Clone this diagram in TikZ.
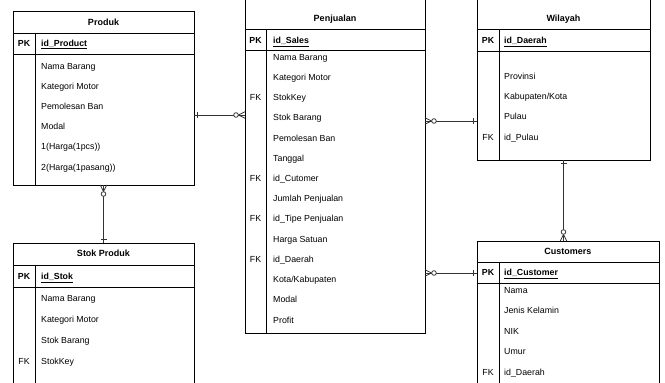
\documentclass[tikz,border=0pt]{standalone}
\usepackage{fontspec}
\setmainfont{Liberation Sans}
\usetikzlibrary{calc}
\begin{document}
\begin{tikzpicture}[x=1pt,y=-1pt,
  tbl/.style={draw=black, line width=0.9pt, anchor=north west, inner sep=0pt, outer sep=0pt},
  ln/.style={draw=black, line width=0.9pt},
  ttl/.style={font=\fontsize{9}{10}\selectfont\bfseries, inner sep=0pt, text height=6.5pt, text depth=0pt},
  row/.style={font=\fontsize{8.8}{10}\selectfont, anchor=west, inner sep=0pt, text height=6.3pt, text depth=0pt},
  idrow/.style={row, font=\fontsize{8.8}{10}\selectfont\bfseries},
  key/.style={font=\fontsize{8.8}{10}\selectfont, inner sep=0pt, text height=6.3pt, text depth=0pt},
  pk/.style={key, font=\fontsize{8.8}{10}\selectfont\bfseries},
  con/.style={draw=black!80, line width=0.8pt},
  zmany/.pic={\draw[con] (0,-3.3) -- (6.5,0) -- (0,3.3); \draw[con] (0,0) -- (6.5,0); \draw[con, fill=white] (9,0) circle (2.3pt);},
  one/.pic={\draw[con] (3.5,-3) -- (3.5,3);}
]
\useasboundingbox (0,0) rectangle (665,383);
\clip (0,0) rectangle (665,383);
\fill[white] (0,0) rectangle (665,383);

% ---------- Produk ----------
\node[tbl, minimum width=181pt, minimum height=174pt] (produk) at (13,11) {};
\draw[ln] (13,33) -- (194,33);
\draw[ln] (13,54) -- (194,54);
\draw[ln] (35,33) -- (35,185);
\node[ttl] (produk-t) at (103.5,22) {Produk};
\node[pk] (produk-pk) at (24,43) {PK};
\node[idrow] (produk-id) at (41,43) {\underline{id\_Product}};
\foreach \t [count=\i] in {Nama Barang, Kategori Motor, Pemolesan Ban, Modal, {1(Harga(1pcs))}, {2(Harga(1pasang))}}
  \node[row] (produk-\i) at (41,{66+20.2*(\i-1)}) {\t};

% ---------- Stok Produk ----------
\node[tbl, minimum width=181pt, minimum height=160pt] (stok) at (13,243) {};
\draw[ln] (13,265) -- (194,265);
\draw[ln] (13,287) -- (194,287);
\draw[ln] (35,265) -- (35,403);
\node[ttl] (stok-t) at (103.5,253.5) {Stok Produk};
\node[pk] (stok-pk) at (24,276.5) {PK};
\node[idrow] (stok-id) at (41,276.5) {\underline{id\_Stok}};
\foreach \t [count=\i] in {Nama Barang, Kategori Motor, Stok Barang, StokKey}
  \node[row] (stok-\i) at (41,{298+21*(\i-1)}) {\t};
\node[key] (stok-fk) at (24,361) {FK};

% ---------- Penjualan ----------
\node[tbl, minimum width=180pt, minimum height=339pt] (penj) at (245,-6) {};
\draw[ln] (245,29) -- (425,29);
\draw[ln] (245,50) -- (425,50);
\draw[ln] (266,29) -- (266,333);
\node[ttl] (penj-t) at (335,18) {Penjualan};
\node[pk] (penj-pk) at (255.5,40.5) {PK};
\node[idrow] (penj-id) at (273,40.5) {\underline{id\_Sales}};
\foreach \t [count=\i] in {Nama Barang, Kategori Motor, StokKey, Stok Barang, Pemolesan Ban, Tanggal, id\_Cutomer, Jumlah Penjualan, id\_Tipe Penjualan, Harga Satuan, id\_Daerah, Kota/Kabupaten, Modal, Profit}
  \node[row] (penj-\i) at (273,{57+20.23*(\i-1)}) {\t};
\foreach \i in {3,7,9,11}
  \node[key] (penj-fk\i) at (255.5,{57+20.23*(\i-1)}) {FK};

% ---------- Wilayah ----------
\node[tbl, minimum width=173pt, minimum height=166pt] (wil) at (477,-6) {};
\draw[ln] (477,29) -- (650,29);
\draw[ln] (477,51) -- (650,51);
\draw[ln] (499,29) -- (499,160);
\node[ttl] (wil-t) at (563.5,18) {Wilayah};
\node[pk] (wil-pk) at (488,40.5) {PK};
\node[idrow] (wil-id) at (504,40.5) {\underline{id\_Daerah}};
\foreach \t [count=\i] in {Provinsi, Kabupaten/Kota, Pulau, id\_Pulau}
  \node[row] (wil-\i) at (504,{76+20.3*(\i-1)}) {\t};
\node[key] (wil-fk) at (488,137) {FK};

% ---------- Customers ----------
\node[tbl, minimum width=182pt, minimum height=162pt] (cust) at (477,241) {};
\draw[ln] (477,262) -- (659,262);
\draw[ln] (477,283) -- (659,283);
\draw[ln] (499,262) -- (499,403);
\node[ttl] (cust-t) at (568,251.5) {Customers};
\node[pk] (cust-pk) at (488,272.5) {PK};
\node[idrow] (cust-id) at (504,272.5) {\underline{id\_Customer}};
\foreach \t [count=\i] in {Nama, Jenis Kelamin, NIK, Umur, id\_Daerah}
  \node[row] (cust-\i) at (504,{290+20.5*(\i-1)}) {\t};
\node[key] (cust-fk) at (488,372) {FK};

% ---------- Connectors ----------
\coordinate (c1) at ($(produk.north east)+(0,104)$);
\draw[con] (c1) -- (c1 -| penj.west);
\pic at (c1) {one};
\pic[rotate=180] at (c1 -| penj.west) {zmany};

\coordinate (c2) at ($(penj.north east)+(0,127)$);
\draw[con] (c2) -- (c2 -| wil.west);
\pic at (c2) {zmany};
\pic[rotate=180] at (c2 -| wil.west) {one};

\coordinate (c3) at ($(penj.north east)+(0,279)$);
\draw[con] (c3) -- (c3 -| cust.west);
\pic at (c3) {zmany};
\pic[rotate=180] at (c3 -| cust.west) {one};

\draw[con] (wil.south) -- (wil.south |- cust.north);
\pic[rotate=-90] at (wil.south) {one};
\pic[rotate=90] at (wil.south |- cust.north) {zmany};

\draw[con] (produk.south) -- (produk.south |- stok.north);
\pic[rotate=-90] at (produk.south) {zmany};
\pic[rotate=90] at (produk.south |- stok.north) {one};
\end{tikzpicture}
\end{document}
